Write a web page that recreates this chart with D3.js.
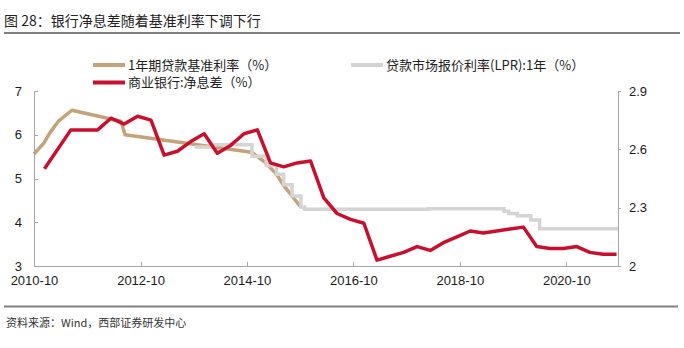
<!DOCTYPE html>
<html>
<head>
<meta charset="utf-8">
<script src="https://cdn.jsdelivr.net/npm/d3@7/dist/d3.min.js"></script>
<style>
  html, body { margin: 0; padding: 0; background: #fff; }
  svg { display: block; }
  .axis text { font-family: "Liberation Sans", Arial, sans-serif; font-size: 13px; fill: #1a1a1a; }
  .axis path, .axis line { stroke: #a6a6a6; shape-rendering: crispEdges; }
</style>
</head>
<body>
<svg id="chart" width="684" height="348"></svg>
<script>
// 1-year benchmark lending rate (%), change dates
const benchDates  = ["2010-10-20","2010-12-26","2011-02-09","2011-04-06","2011-07-07","2012-06-08","2012-07-06","2014-11-22","2015-03-01","2015-05-11","2015-06-28","2015-08-26","2015-10-24"];
const benchValues = [5.56, 5.81, 6.06, 6.31, 6.56, 6.31, 6.00, 5.60, 5.35, 5.10, 4.85, 4.60, 4.35];

// Loan prime rate, 1 year (%), change dates (held until next change)
const lprDates  = ["2013-10-25","2014-03-10","2014-11-24","2015-03-02","2015-05-11","2015-06-29","2015-08-26","2015-10-26","2015-11-20","2018-03-20","2019-08-20","2019-09-20","2019-11-20","2020-02-20","2020-04-20","2021-10-10"];
const lprValues = [5.72, 5.77, 5.51, 5.30, 5.10, 4.86, 4.60, 4.35, 4.30, 4.31, 4.25, 4.20, 4.15, 4.05, 3.85, 3.85];

// Commercial banks: net interest margin (%), quarter ends
const nimQuarters = ["2010-12","2011-06","2011-12","2012-03","2012-06","2012-09","2012-12","2013-03","2013-06","2013-09","2013-12","2014-03","2014-06","2014-09","2014-12","2015-03","2015-06","2015-09","2015-12","2016-03","2016-06","2016-09","2016-12","2017-03","2017-06","2017-09","2017-12","2018-03","2018-06","2018-09","2018-12","2019-03","2019-06","2019-09","2019-12","2020-03","2020-06","2020-09","2020-12","2021-03","2021-06","2021-09"];
const nimValues = [2.50, 2.70, 2.70, 2.76, 2.73, 2.77, 2.75, 2.57, 2.59, 2.64, 2.68, 2.58, 2.62, 2.68, 2.70, 2.53, 2.51, 2.53, 2.54, 2.35, 2.27, 2.24, 2.22, 2.03, 2.05, 2.07, 2.10, 2.08, 2.12, 2.15, 2.18, 2.17, 2.18, 2.19, 2.20, 2.10, 2.09, 2.09, 2.10, 2.07, 2.06, 2.06];

// Axis ticks
const xTickDates  = ["2010-10-20","2012-10-20","2014-10-20","2016-10-20","2018-10-20","2020-10-20"];
const leftTicks   = [3, 4, 5, 6, 7];
const rightTicks  = [2, 2.3, 2.6, 2.9];

const titleText  = "图 28：银行净息差随着基准利率下调下行";
const sourceText = "资料来源：Wind，西部证券研发中心";
const legendLabels = ["1年期贷款基准利率（%）", "贷款市场报价利率(LPR):1年（%）", "商业银行:净息差（%）"];

const COLORS = { bench: "#c4a27a", lpr: "#d4d4d4", nim: "#c8102e" };

const parseDay = d3.timeParse("%Y-%m-%d");
const parseMonth = d3.timeParse("%Y-%m");
const monthEnd = s => d3.timeDay.offset(d3.timeMonth.offset(parseMonth(s), 1), -1);

const bench = benchDates.map((d, i) => ({ date: parseDay(d), value: benchValues[i] }));
const lpr   = lprDates.map((d, i) => ({ date: parseDay(d), value: lprValues[i] }));
const nim   = nimQuarters.map((d, i) => ({ date: monthEnd(d), value: nimValues[i] }));

const svg = d3.select("#chart");
const plot = { left: 34, right: 618, top: 91, bottom: 266 };

const x = d3.scaleTime()
  .domain([parseDay("2010-10-20"), parseDay("2021-10-10")])
  .range([plot.left, plot.right]);
const yL = d3.scaleLinear().domain([3, 7]).range([plot.bottom, plot.top]);
const yR = d3.scaleLinear().domain([2, 2.9]).range([plot.bottom, plot.top]);

// Title and rules
svg.append("text")
  .attr("x", 4).attr("y", 26)
  .attr("font-family", "'Noto Sans CJK SC', sans-serif")
  .attr("font-size", 14).attr("fill", "#222")
  .text(titleText);
svg.append("line").attr("x1", 4).attr("x2", 680).attr("y1", 33).attr("y2", 33)
  .attr("stroke", "#808080").attr("stroke-width", 2);
svg.append("line").attr("x1", 4).attr("x2", 678).attr("y1", 306.5).attr("y2", 306.5)
  .attr("stroke", "#808080").attr("stroke-width", 2);
svg.append("text")
  .attr("x", 6).attr("y", 327)
  .attr("font-family", "'Noto Sans CJK SC', sans-serif")
  .attr("font-size", 11).attr("fill", "#333")
  .text(sourceText);

// Axes
const fmtMonth = d3.timeFormat("%Y-%m");
svg.append("g").attr("class", "axis")
  .attr("transform", `translate(0,${plot.bottom})`)
  .call(d3.axisBottom(x).tickValues(xTickDates.map(parseDay))
    .tickFormat(fmtMonth).tickSize(-4).tickSizeOuter(0).tickPadding(10));

svg.append("g").attr("class", "axis")
  .attr("transform", `translate(${plot.left},0)`)
  .call(d3.axisLeft(yL).tickValues(leftTicks).tickFormat(d3.format("d"))
    .tickSize(-4).tickSizeOuter(0).tickPadding(12));

svg.append("g").attr("class", "axis")
  .attr("transform", `translate(${plot.right},0)`)
  .call(d3.axisRight(yR).tickValues(rightTicks).tickFormat(d => String(d))
    .tickSize(3).tickSizeOuter(0).tickPadding(8));

// Series
const lineL = d3.line().x(d => x(d.date)).y(d => yL(d.value));
const stepL = d3.line().x(d => x(d.date)).y(d => yL(d.value)).curve(d3.curveStepAfter);
const lineR = d3.line().x(d => x(d.date)).y(d => yR(d.value));

svg.append("path").datum(bench).attr("d", lineL)
  .attr("fill", "none").attr("stroke", COLORS.bench).attr("stroke-width", 3.5)
  .attr("stroke-linejoin", "round");
svg.append("path").datum(lpr).attr("d", stepL)
  .attr("fill", "none").attr("stroke", COLORS.lpr).attr("stroke-width", 3.5)
  .attr("stroke-linejoin", "miter");
svg.append("path").datum(nim).attr("d", lineR)
  .attr("fill", "none").attr("stroke", COLORS.nim).attr("stroke-width", 3.5)
  .attr("stroke-linejoin", "round");

// Legend
const legendItems = [
  { label: legendLabels[0], color: COLORS.bench, x: 93,  y: 65 },
  { label: legendLabels[1], color: COLORS.lpr,   x: 351, y: 65 },
  { label: legendLabels[2], color: COLORS.nim,   x: 93,  y: 82.5 }
];
const lg = svg.append("g").selectAll("g").data(legendItems).join("g")
  .attr("transform", d => `translate(${d.x},${d.y})`);
lg.append("line").attr("x1", 0).attr("x2", 32).attr("y1", 0).attr("y2", 0)
  .attr("stroke", d => d.color).attr("stroke-width", 4);
lg.append("text").attr("x", 35).attr("y", 0).attr("dy", "0.35em")
  .attr("font-family", "'Noto Sans CJK SC', 'Liberation Sans', sans-serif")
  .attr("font-size", 13).attr("fill", "#222")
  .text(d => d.label);
</script>
</body>
</html>
